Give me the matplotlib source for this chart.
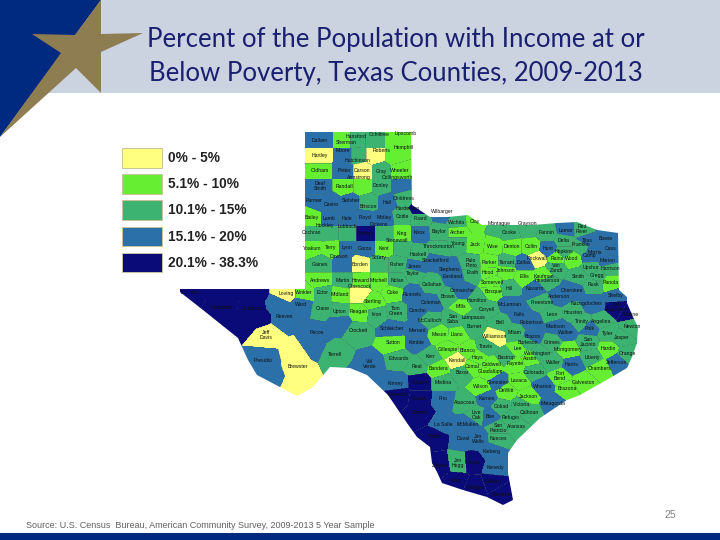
import numpy as np
import matplotlib
matplotlib.use('Agg')
import matplotlib.pyplot as plt
from matplotlib.colors import BoundaryNorm, ListedColormap
from matplotlib.patches import Polygon, Rectangle

# poverty class per county: 0 = 0-5%, 1 = 5.1-10%, 2 = 10.1-15%, 3 = 15.1-20%, 4 = 20.1-38.3%
# places are read off the map as picture x / y, an empty name is a helper site without label
north_names = ['Dallam', 'Sherman', 'Hansford', 'Ochiltree', 'Lipscomb', 'Hartley', 'Moore', 'Hutchinson', 'Roberts', 'Hemphill',
               'Oldham', 'Potter', 'Carson', 'Gray', 'Wheeler', 'Deaf\nSmith', 'Randall', 'Armstrong', 'Donley', 'Collingsworth',
               'Parmer', 'Castro', 'Swisher', 'Briscoe', 'Hall', 'Childress', 'Bailey', 'Lamb', 'Hale', 'Floyd', 'Motley', 'Cottle',
               'Cochran', 'Hockley', 'Lubbock', 'Crosby', 'Dickens', 'King', 'Yoakum', 'Terry', 'Lynn', 'Garza', 'Kent', 'Stonewall',
               'Gaines', 'Dawson', 'Borden', 'Scurry', 'Fisher', 'Andrews', 'Martin', 'Howard', 'Mitchell', 'Nolan']
north_x = [320, 345, 355, 375, 394, 320, 345, 357, 375, 394,
           320, 344, 362, 381, 400, 320, 344, 362, 381, 400,
           320, 331, 350, 368, 387, 404, 312, 329, 347, 365, 384, 402,
           312, 329, 347, 365, 384, 402, 312, 331, 347, 365, 384, 402,
           320, 343, 360, 379, 397, 320, 343, 361, 379, 397]
north_y = [140, 140, 140, 140, 140, 155, 155, 155, 155, 155,
           171, 171, 171, 171, 171, 186, 186, 186, 186, 186,
           202, 202, 202, 202, 202, 198, 218, 218, 218, 218, 218, 216,
           233, 233, 233, 233, 233, 233, 248, 248, 248, 248, 248, 248,
           264, 264, 264, 264, 264, 280, 280, 280, 280, 280]
north_class = [3, 1, 2, 2, 1, 0, 3, 2, 0, 1,
               1, 3, 0, 2, 1, 3, 1, 1, 2, 3,
               3, 3, 3, 2, 3, 2, 1, 3, 3, 3, 3, 2,
               2, 2, 2, 4, 2, 1, 1, 1, 3, 3, 1, 2,
               2, 3, 0, 2, 2, 1, 2, 1, 1, 2]

west_names = ['El Paso', 'Hudspeth', 'Culberson', 'Loving', 'Winkler', 'Ector', 'Midland', 'Glasscock', 'Sterling', 'Coke',
              'Reeves', 'Ward', 'Crane', 'Upton', 'Reagan', 'Irion', 'Tom\nGreen', 'Pecos', 'Crockett', 'Schleicher',
              'Sutton', 'Terrell', 'Val\nVerde', 'Edwards', 'Kinney', 'Jeff\nDavis', 'Presidio', 'Brewster',
              '', '', '', '', '', '', '', '', '', '', '', '']
west_x = [190, 222, 253, 286, 304, 323, 340, 359, 373, 393,
          284, 301, 323, 339, 359, 377, 396, 317, 358, 392,
          393, 335, 370, 399, 396, 266, 263, 298,
          222, 253, 258, 246, 279, 297, 298, 312, 340, 365, 226, 268]
west_y = [292, 307, 309, 293, 293, 293, 294, 294, 302, 293,
          317, 305, 308, 311, 312, 314, 311, 333, 331, 329,
          343, 354, 364, 359, 383, 335, 360, 367,
          294, 294, 318, 322, 305, 354, 386, 346, 322, 372, 318, 375]
west_class = [4, 4, 4, 0, 1, 2, 1, 0, 1, 1,
              3, 3, 2, 2, 1, 2, 2, 3, 2, 3,
              1, 2, 3, 2, 3, 0, 3, 0,
              4, 4, 4, 4, 3, 0, 0, 3, 3, 3, 4, 3]

east_names = ['Hardeman', 'Foard', 'Wilbarger', 'Wichita', 'Clay', 'Montague', 'Cooke', 'Grayson', 'Fannin', 'Lamar', 'Red\nRiver', 'Bowie',
              'Cass', 'Titus', 'Morris', 'Camp', 'Marion', 'Delta', 'Franklin', 'Hopkins', 'Hunt', 'Collin', 'Denton', 'Wise',
              'Jack', 'Young', 'Archer', 'Baylor', 'Knox', 'Throckmorton', 'Haskell', 'Shackelford', 'Stephens', 'Jones', 'Palo\nPinto', 'Parker',
              'Tarrant', 'Dallas', 'Rockwall', 'Rains', 'Wood', 'Van\nZandt', 'Kaufman', 'Upshur', 'Harrison', 'Smith', 'Gregg', 'Rusk',
              'Panola', 'Shelby', 'Nacogdoches', 'Cherokee', 'Anderson', 'Henderson', 'Ellis', 'Johnson', 'Hood', 'Erath', 'Somervell', 'Hill',
              'Navarro', 'Bosque', 'Eastland', 'Callahan', 'Taylor', 'Runnels', 'Coleman', 'Brown', 'Comanche', 'Hamilton', 'Mills', 'Coryell',
              'McLennan', 'Falls', 'Freestone', 'Leon', 'Houston', 'Trinity', 'Angelina', 'San\nAugustine', 'Sabine', 'Newton', 'Jasper', 'Tyler',
              'Polk', 'San\nJacinto', 'Hardin', 'Liberty', 'Orange', 'Jefferson', 'Walker', 'Madison', 'Montgomery', 'Grimes', 'Brazos', 'Robertson']
east_x = [420, 420, 442, 457, 475, 499, 509, 528, 547, 566, 582, 606,
          611, 587, 593, 590, 608, 564, 582, 564, 548, 531, 512, 493,
          475, 458, 458, 439, 420, 439, 418, 436, 450, 415, 471, 489,
          507, 524, 537, 557, 572, 556, 544, 591, 610, 578, 597, 594,
          611, 616, 593, 572, 559, 547, 524, 506, 488, 473, 492, 509,
          535, 493, 453, 432, 413, 412, 431, 448, 462, 477, 461, 487,
          510, 519, 542, 552, 573, 582, 601, 617, 628, 632, 622, 608,
          590, 588, 608, 592, 627, 617, 566, 556, 568, 552, 533, 532]
east_y = [208, 219, 214, 222, 221, 228, 232, 228, 233, 230, 229, 238,
          248, 241, 250, 256, 261, 240, 247, 252, 249, 247, 247, 246,
          244, 243, 232, 232, 233, 248, 253, 261, 269, 267, 263, 262,
          262, 263, 258, 258, 259, 268, 276, 268, 268, 276, 276, 284,
          283, 296, 304, 290, 296, 281, 277, 271, 272, 273, 282, 288,
          289, 291, 277, 284, 273, 294, 303, 297, 291, 300, 307, 309,
          304, 314, 302, 315, 313, 322, 321, 307, 312, 327, 338, 333,
          328, 342, 349, 357, 354, 362, 332, 326, 350, 342, 336, 322]
east_class = [4, 2, 3, 2, 1, 2, 2, 2, 2, 3, 2, 3,
              3, 3, 3, 3, 3, 2, 2, 2, 3, 1, 1, 1,
              1, 2, 1, 2, 3, 2, 2, 3, 3, 3, 2, 1,
              2, 3, 0, 1, 1, 2, 1, 2, 2, 2, 2, 2,
              1, 3, 3, 3, 3, 2, 1, 1, 1, 2, 1, 2,
              3, 1, 3, 2, 2, 3, 3, 2, 3, 2, 1, 2,
              3, 3, 2, 2, 2, 2, 2, 4, 4, 2, 2, 2,
              3, 2, 1, 2, 2, 3, 3, 3, 1, 2, 3, 3]

south_names = ['Lampasas', 'San\nSaba', 'Burnet', 'Bell', 'Milam', 'McCulloch', 'Concho', 'Menard', 'Kimble', 'Mason', 'Llano', 'Gillespie',
               'Blanco', 'Williamson', 'Travis', 'Hays', 'Burleson', 'Lee', 'Bastrop', 'Washington', 'Austin', 'Waller', 'Harris', 'Kerr',
               'Kendall', 'Comal', 'Caldwell', 'Fayette', 'Real', 'Bandera', 'Bexar', 'Guadalupe', 'Gonzales', 'Colorado', 'Fort\nBend', 'Brazoria',
               'Galveston', 'Chambers', 'Wharton', 'Matagorda', 'Lavaca', 'DeWitt', 'Jackson', 'Victoria', 'Calhoun', 'Goliad', 'Refugio', 'Aransas',
               'Bee', 'Karnes', 'Wilson', 'Atascosa', 'Medina', 'Uvalde', 'Zavala', 'Dimmit', 'Maverick', 'Frio', 'La Salle', 'McMullen',
               'Live\nOak', 'San\nPatricio', 'Nueces', 'Webb', 'Duval', 'Jim\nWells', 'Kleberg', 'Zapata', 'Jim\nHogg', 'Brooks', 'Kenedy', 'Starr',
               'Hidalgo', 'Willacy', 'Cameron']
south_x = [474, 453, 474, 500, 515, 430, 418, 417, 417, 439, 457, 448,
           468, 495, 486, 478, 528, 518, 506, 538, 530, 553, 572, 430,
           457, 472, 492, 515, 417, 438, 462, 490, 498, 534, 560, 567,
           583, 600, 543, 553, 519, 506, 528, 522, 529, 501, 511, 516,
           490, 487, 481, 465, 443, 420, 420, 420, 398, 443, 443, 468,
           476, 498, 498, 435, 463, 478, 492, 440, 458, 473, 495, 456,
           475, 493, 502]
south_y = [318, 319, 327, 323, 333, 320, 310, 330, 342, 334, 335, 349,
           351, 336, 347, 357, 343, 349, 357, 353, 358, 362, 365, 357,
           360, 367, 365, 364, 366, 369, 373, 372, 382, 372, 376, 389,
           382, 368, 386, 403, 381, 391, 396, 405, 412, 407, 418, 426,
           416, 398, 387, 402, 382, 382, 398, 413, 395, 399, 424, 424,
           415, 428, 438, 437, 439, 439, 451, 465, 463, 462, 467, 481,
           487, 482, 494]
south_class = [2, 2, 2, 2, 2, 2, 3, 3, 3, 1, 1, 1,
               1, 0, 2, 1, 2, 1, 2, 2, 1, 2, 3, 2,
               0, 1, 1, 1, 2, 1, 2, 1, 3, 2, 1, 1,
               1, 1, 3, 3, 1, 1, 1, 2, 2, 2, 2, 2,
               3, 3, 1, 2, 2, 4, 4, 4, 4, 3, 3, 3,
               2, 2, 2, 4, 3, 3, 3, 4, 2, 4, 3, 4,
               4, 4, 4]

outline_x = [305, 411, 412, 430, 448, 468, 482, 500, 517, 533, 557, 577, 597, 618, 619, 627, 627, 633, 638, 637, 632, 627,
             610, 580, 567, 540, 517, 508, 508, 513, 503, 487, 463, 442, 437, 432, 430, 417, 407, 388, 367, 350, 330,
             313, 297, 278, 257, 248, 238, 203, 180, 180, 305]
outline_y = [132, 132, 205, 217, 217, 215, 225, 225, 225, 225, 223, 222, 230, 233, 290, 297, 303, 317, 327, 343, 357, 368,
             378, 395, 400, 418, 440, 453, 473, 500, 505, 497, 490, 483, 472, 463, 447, 437, 423, 395, 375, 368, 367,
             387, 396, 386, 375, 360, 338, 310, 292, 289, 289]

legend_labels = ['0% - 5%', '5.1% - 10%', '10.1% - 15%', '15.1% - 20%', '20.1% - 38.3%']
class_colors = ['#ffff80', '#66ee33', '#3cb371', '#2b70a8', '#0a0a78']

# labels that sit off their county centre on the map
label_shift = {'Hansford': (1, -4), 'Sherman': (1, 3), 'Ochiltree': (4, -6), 'Lipscomb': (12, -7), 'Moore': (-2, -4),
               'Hutchinson': (1, 6), 'Roberts': (7, -5), 'Hemphill': (10, -7), 'Armstrong': (-3, -9), 'Collingsworth': (-3, -8),
               'Parmer': (-6, -2), 'Castro': (0, 3), 'Swisher': (1, -1), 'Briscoe': (0, 4), 'Hockley': (-4, -8),
               'Lubbock': (0, -6), 'Dickens': (-5, -8), 'Stonewall': (-5, -7), 'Dawson': (-4, -8), 'Scurry': (0, -6),
               'Hardeman': (-12, 0), 'Glasscock': (1, -7), 'Wilbarger': (0, -2), 'Montague': (0, -5), 'Grayson': (0, -4),
               'Haskell': (0, 1), 'Throckmorton': (0, -1), 'Nacogdoches': (-6, 0), 'Sabine': (3, 3),
               'Franklin': (-1, -2), 'Morris': (2, 2)}

names = north_names + west_names + east_names + south_names
site_x = np.array(north_x + west_x + east_x + south_x, dtype=float)
site_y = np.array(north_y + west_y + east_y + south_y, dtype=float)
site_class = np.array(north_class + west_class + east_class + south_class)
site_named = np.array([bool(n) for n in names])

fig = plt.figure(figsize=(7.2, 5.4), dpi=100)
ax = fig.add_axes([0, 0, 1, 1])
ax.set_xlim(0, 720)
ax.set_ylim(540, 0)
ax.axis('off')

# slide header
ax.add_patch(Rectangle((0, 0), 720, 93, color='#cbd2e0', lw=0))
ax.add_patch(Polygon(list(zip([0, 101, 0], [0, 0, 137])), color='#002a7f', lw=0))
ax.add_patch(Polygon(list(zip([101, 101, 143, 101, 101, 76, 0, 61, 32, 75],
                              [0, 34, 33, 52, 93, 68, 137, 53, 34, 35])), color='#8f7d52', lw=0))
ax.add_patch(Rectangle((0, 533), 720, 7, color='#002a7f', lw=0))
ax.text(396, 40, 'Percent of the Population with Income at or', ha='center', va='center',
        fontsize=18.5, color='#1a2070', family='Lato')
ax.text(396, 73, 'Below Poverty, Texas Counties, 2009-2013', ha='center', va='center',
        fontsize=18.5, color='#1a2070', family='Lato')

# counties: every map pixel takes the class of the nearest county site
grid_x, grid_y = np.meshgrid(np.arange(170, 650, 0.5), np.arange(125, 515, 0.5))
dist = (grid_x[..., None] - site_x) ** 2 + (1.15 * (grid_y[..., None] - site_y)) ** 2
nearest = dist.argmin(axis=2)
extent = (170, 650, 515, 125)
cmap = ListedColormap(class_colors)
norm = BoundaryNorm(np.arange(-0.5, 5), cmap.N)
state = Polygon(list(zip(outline_x, outline_y)), closed=True, transform=ax.transData, fc='none', ec='none')
ax.add_patch(state)
classes = site_class[nearest]
fill = ax.imshow(classes, cmap=cmap, norm=norm, extent=extent, interpolation='nearest', aspect='auto', zorder=2)
fill.set_clip_path(state)


def border_mask(a, b, ca, cb, na, nb):
    # a helper site melts into its county, so same class + helper gives no line
    return (a != b) & ((ca != cb) | (na & nb))


named = site_named[nearest]
edges = np.zeros(nearest.shape, dtype=bool)
edges[1:, :] |= border_mask(nearest[1:, :], nearest[:-1, :], classes[1:, :], classes[:-1, :], named[1:, :], named[:-1, :])
edges[:, 1:] |= border_mask(nearest[:, 1:], nearest[:, :-1], classes[:, 1:], classes[:, :-1], named[:, 1:], named[:, :-1])
lines = np.ma.masked_where(~edges, classes)
border = ax.imshow(lines, cmap=ListedColormap(['#4f6f66']), alpha=0.4, extent=extent, interpolation='nearest', aspect='auto', zorder=3)
border.set_clip_path(state)
ax.set_xlim(0, 720)
ax.set_ylim(540, 0)

for name, x, y in zip(names, site_x, site_y):
    if name:
        dx, dy = label_shift.get(name, (0, 0))
        ax.text(x + dx, y + dy, name, ha='center', va='center', fontsize=3.7, color='#101010',
                family='Liberation Sans', linespacing=1.0, zorder=4)

# legend
for i, (label, color) in enumerate(zip(legend_labels, class_colors)):
    top = 148 + i * 26.2
    ax.add_patch(Rectangle((122, top), 40, 19.5, fc=color, ec='#c8c49a', lw=0.7, zorder=2))
    ax.text(168, top + 10, label, va='center', fontsize=9.9, color='#222222',
            family='Liberation Sans', fontweight='bold')

ax.text(26, 525, 'Source: U.S. Census  Bureau, American Community Survey, 2009-2013 5 Year Sample',
        va='center', fontsize=6.45, color='#606060', family='Liberation Sans')
ax.text(670, 515, '25', ha='center', va='center', fontsize=7.5, color='#808080', family='Liberation Sans')

fig.savefig('out.png', dpi=100)
